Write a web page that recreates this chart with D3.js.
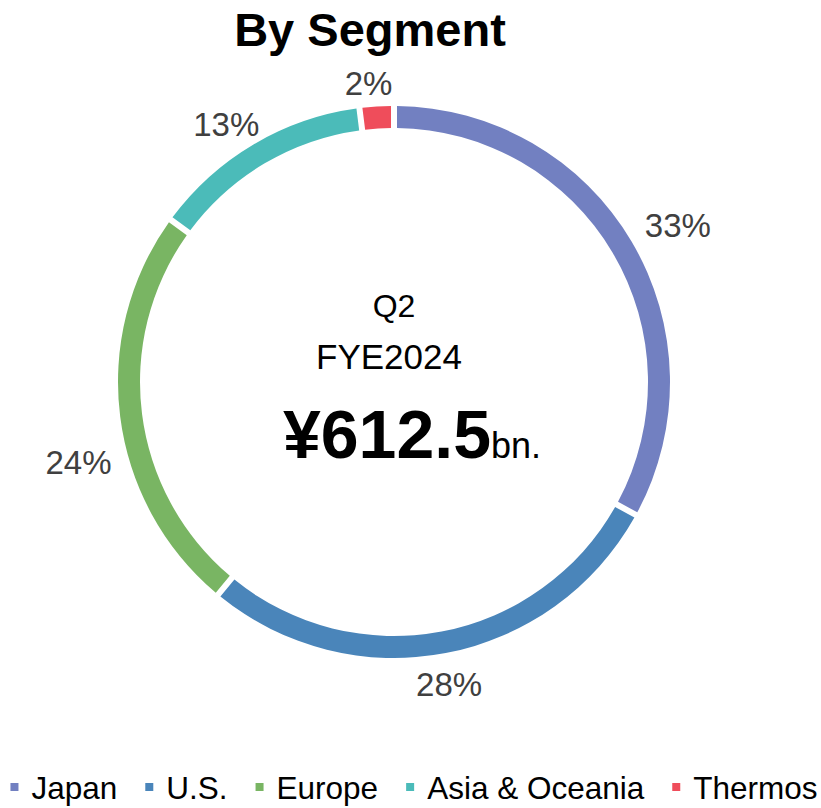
<!DOCTYPE html>
<html><head><meta charset="utf-8">
<script src="https://cdn.jsdelivr.net/npm/d3@7"></script>
<style>body{margin:0;background:#fff;} svg{display:block;}</style>
</head><body>
<svg id="chart" width="821" height="808"></svg>
<script>
const categories = ["Japan", "U.S.", "Europe", "Asia & Oceania", "Thermos"];
const shares = [33, 28, 24, 13, 2];
const labels = ["33%", "28%", "24%", "13%", "2%"];
const colors = ["#7280C1", "#4A85BA", "#79B563", "#4BBBB9", "#EF4D5B"];
const titleText = "By Segment";
const centerLines = ["Q2", "FYE2024"];
const totalValue = "¥612.5";
const totalUnit = "bn.";
// label nudges (layout only)
const labelNudge = [[17, 2], [-3, -2], [-8, 42], [-10, 10], [-6, 11]];

const svg = d3.select("#chart");
const font = "'Liberation Sans', Arial, sans-serif";
const cx = 394, cy = 382, outerR = 276, innerR = 254;

svg.append("text").attr("x", 370).attr("y", 46).attr("text-anchor", "middle")
  .attr("font-family", font).attr("font-weight", "bold").attr("font-size", 47)
  .attr("fill", "#000").text(titleText);

const pie = d3.pie().sort(null).value(d => d);
const arcs = pie(shares);
const arc = d3.arc().innerRadius(innerR).outerRadius(outerR).padAngle(6 / 265).padRadius(265);
const labelArc = d3.arc().innerRadius(310).outerRadius(310);

const g = svg.append("g").attr("transform", `translate(${cx},${cy})`);
g.selectAll("path").data(arcs).join("path")
  .attr("d", arc).attr("fill", (d, i) => colors[i]);

g.selectAll("text.lbl").data(arcs).join("text").attr("class", "lbl")
  .attr("x", (d, i) => labelArc.centroid(d)[0] + labelNudge[i][0])
  .attr("y", (d, i) => labelArc.centroid(d)[1] + labelNudge[i][1] + 11)
  .attr("text-anchor", "middle").attr("font-family", font).attr("font-size", 33)
  .attr("fill", "#404040").text((d, i) => labels[i]);

// center text
svg.append("text").attr("x", 394).attr("y", 317).attr("text-anchor", "middle")
  .attr("font-family", font).attr("font-size", 32).attr("fill", "#000").text(centerLines[0]);
svg.append("text").attr("x", 389).attr("y", 369).attr("text-anchor", "middle")
  .attr("font-family", font).attr("font-size", 35).attr("fill", "#000").text(centerLines[1]);
const tot = svg.append("text").attr("x", 412).attr("y", 458).attr("text-anchor", "middle")
  .attr("font-family", font).attr("fill", "#000");
tot.append("tspan").attr("font-weight", "bold").attr("font-size", 68).text(totalValue);
tot.append("tspan").attr("font-size", 36).text(totalUnit);

// legend
const leg = svg.append("g");
let x = 0;
categories.forEach((c, i) => {
  const it = leg.append("g").attr("transform", `translate(${x},0)`);
  it.append("rect").attr("x", 0).attr("y", -4).attr("width", 8).attr("height", 8).attr("fill", colors[i]);
  const t = it.append("text").attr("x", 21).attr("y", 12).attr("font-family", font)
    .attr("font-size", 31.5).attr("fill", "#000").text(c);
  x += 21 + t.node().getComputedTextLength() + 28;
});
const legW = x - 28;
leg.attr("transform", `translate(${414 - legW / 2},787)`);
</script>
</body></html>
